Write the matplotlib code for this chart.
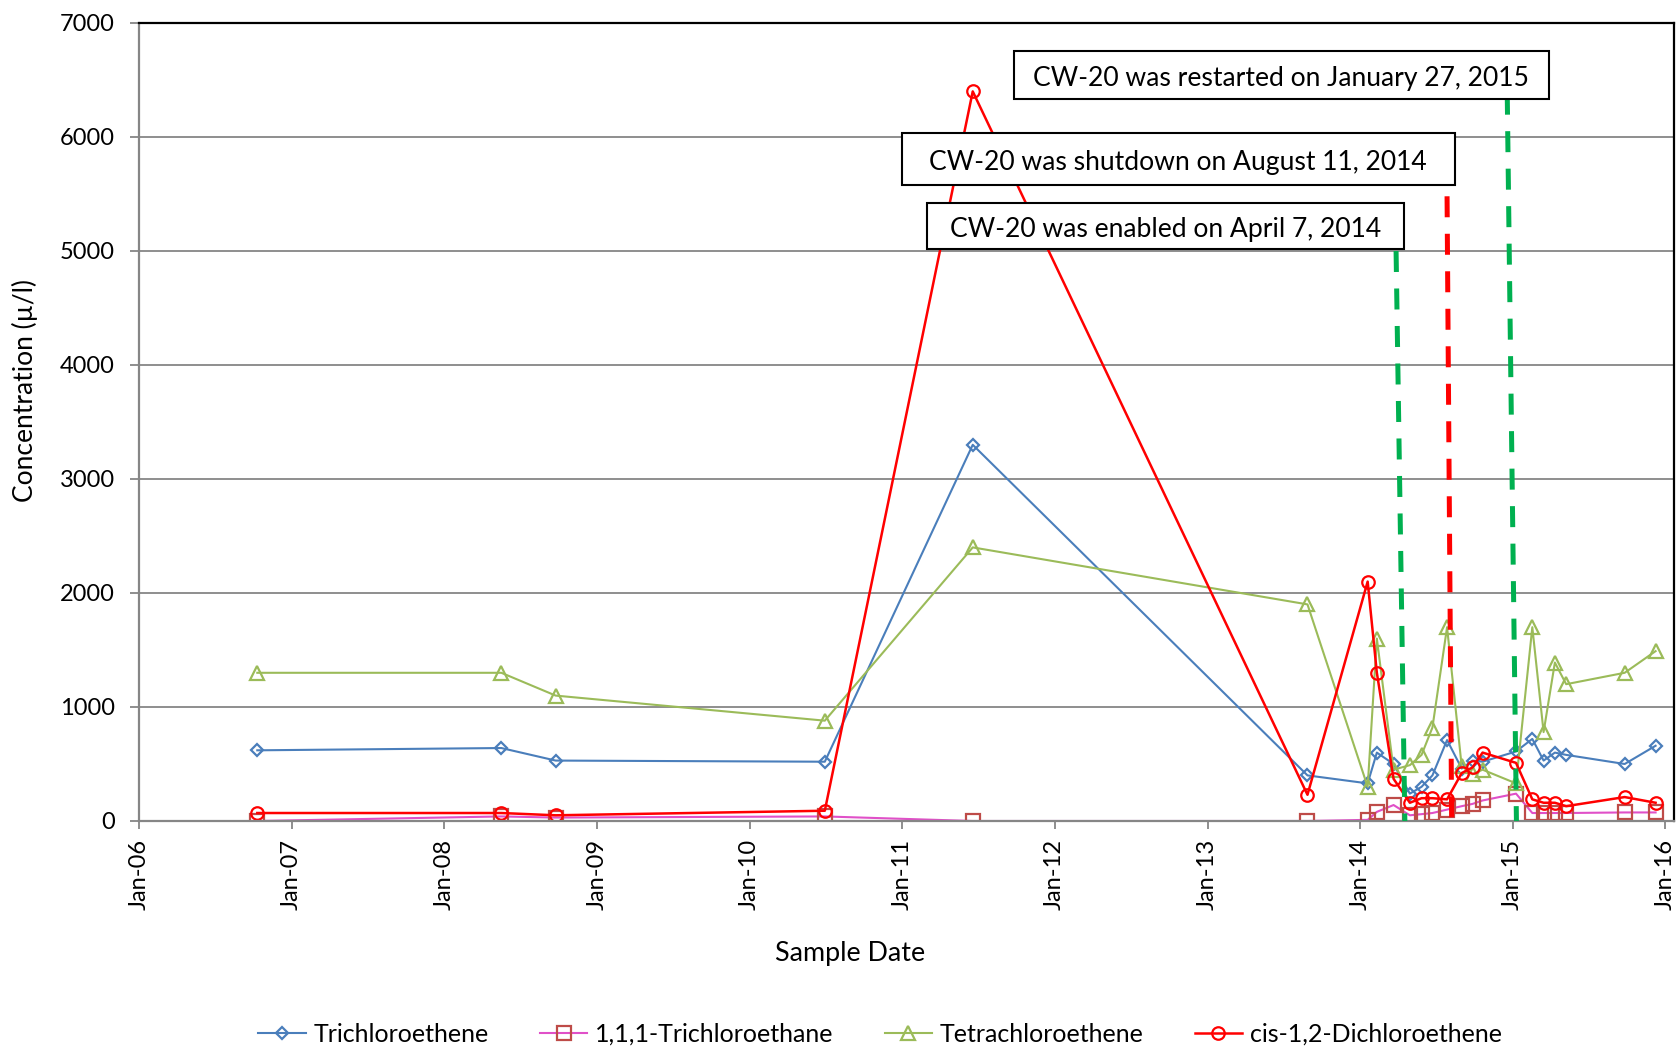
import matplotlib
matplotlib.use("Agg")
import matplotlib.pyplot as plt
import matplotlib.dates as mdates
from matplotlib.patches import Rectangle
import pandas as pd

plt.rcParams['font.family'] = ['Lato', 'DejaVu Sans']

# ----- DATA
sample_dates = ['2006-10-11', '2008-05-17', '2008-09-24', '2010-06-30', '2011-06-19',
                '2013-08-28', '2014-01-19', '2014-02-10', '2014-03-22', '2014-04-30',
                '2014-05-28', '2014-06-23', '2014-07-28', '2014-09-01', '2014-09-27',
                '2014-10-21', '2015-01-09', '2015-02-17', '2015-03-16', '2015-04-12',
                '2015-05-09', '2015-09-26', '2015-12-09']

trichloroethene = [620, 640, 530, 520, 3300, 400, 330, 600, 500, 240, 300, 400,
                   710, 460, 530, 520, 610, 720, 530, 600, 580, 500, 660]
trichloroethane = [0, 40, 30, 40, 0, 0, 10, 80, 140, 50, 60, 70,
                   100, 130, 150, 180, 240, 70, 70, 70, 70, 75, 75]
tetrachloroethene = [1300, 1300, 1100, 880, 2400, 1900, 300, 1600, 450, 490, 580, 820,
                     1700, 480, 410, 450, 330, 1700, 780, 1390, 1200, 1300, 1490]
dichloroethene = [70, 70, 50, 90, 6400, 230, 2100, 1300, 370, 160, 200, 200,
                  190, 420, 470, 600, 510, 190, 160, 160, 130, 210, 160]

series_names = ['Trichloroethene', '1,1,1-Trichloroethane',
                'Tetrachloroethene', 'cis-1,2-Dichloroethene']

# event markers (hand drawn, slightly slanted in the original)
event_texts = ['CW-20 was enabled on April 7, 2014',
               'CW-20 was shutdown on August 11, 2014',
               'CW-20 was restarted on January 27, 2015']
event_top_dates = ['2014-03-28', '2014-07-28', '2014-12-19']
event_bottom_dates = ['2014-04-18', '2014-08-08', '2015-01-10']
event_top_values = [5000, 5480, 6380]
event_colors = ['#00B050', '#FF0000', '#00B050']

x = pd.to_datetime(sample_dates)

# ----- FIGURE
fig = plt.figure(figsize=(16.77, 10.5), dpi=100)
ax = fig.add_axes([0.0829, 0.2181, 0.9153, 0.76])

ax.plot(x, trichloroethene, color='#4A7EBB', lw=1.5, marker='D', ms=6.3,
        mfc='none', mec='#4A7EBB', mew=1.6, label=series_names[0])
ax.plot(x, trichloroethane, color='#E050C8', lw=1.5, marker='s', ms=9.5,
        mfc='none', mec='#BE4B48', mew=1.6, label=series_names[1])
ax.plot(x, tetrachloroethene, color='#9BBB59', lw=1.5, marker='^', ms=9.5,
        mfc='none', mec='#9BBB59', mew=1.6, label=series_names[2])
ax.plot(x, dichloroethene, color='#FF0000', lw=1.8, marker='o', ms=9,
        mfc='none', mec='#FF0000', mew=1.6, label=series_names[3])

# dashed event lines
for top, bottom, val, col in zip(event_top_dates, event_bottom_dates, event_top_values, event_colors):
    ax.plot(pd.to_datetime([top, bottom]), [val, 0], color=col, lw=3.6,
            dashes=(4.2, 3.3), zorder=5, solid_capstyle='butt', dash_capstyle='butt')

# text boxes (axes fraction: x, y, w, h)
box_specs = [(0.5134, 0.7164, 0.3104, 0.0584),
             (0.4971, 0.7966, 0.3600, 0.0659),
             (0.5700, 0.9048, 0.3485, 0.0605)]
for txt, (bx, by, bw, bh) in zip(event_texts, box_specs):
    ax.add_patch(Rectangle((bx, by), bw, bh, transform=ax.transAxes, facecolor='white',
                           edgecolor='black', lw=1.5, zorder=10))
    ax.text(bx + bw / 2, by + bh / 2 - 0.004, txt, transform=ax.transAxes, ha='center',
            va='center', fontsize=19.1, zorder=11)

# ----- AXES
ax.set_xlim(pd.Timestamp('2006-01-01'), pd.Timestamp('2016-01-22'))
ax.set_ylim(0, 7000)
ax.set_yticks(range(0, 7001, 1000))
ax.xaxis.set_major_locator(mdates.YearLocator())
ax.xaxis.set_major_formatter(mdates.DateFormatter('%b-%y'))
ax.grid(axis='y', color='#868686', lw=1.3)
ax.set_axisbelow(True)

for side in ['left', 'bottom']:
    ax.spines[side].set_color('#868686')
    ax.spines[side].set_linewidth(1.6)
for side in ['top', 'right']:
    ax.spines[side].set_color('black')
    ax.spines[side].set_linewidth(1.6)

ax.tick_params(axis='y', length=6.5, width=1.3, color='#868686', pad=11, labelsize=17)
ax.tick_params(axis='x', length=6, width=1.3, color='#868686', pad=7, labelsize=17,
               labelrotation=90)

fig.text(850 / 1677, 1 - 954 / 1050, 'Sample Date', ha='center', va='center', fontsize=19.4)
fig.text(24.5 / 1677, 1 - 391 / 1050, 'Concentration (µ/l)', ha='center', va='center',
         rotation=90, fontsize=19)

fig.legend(loc='center', bbox_to_anchor=(880 / 1677, 1 - 1034 / 1050), ncol=4,
           frameon=False, fontsize=18, handlelength=1.9, handletextpad=0.3,
           columnspacing=2.05)

fig.savefig('out.png', dpi=100)
